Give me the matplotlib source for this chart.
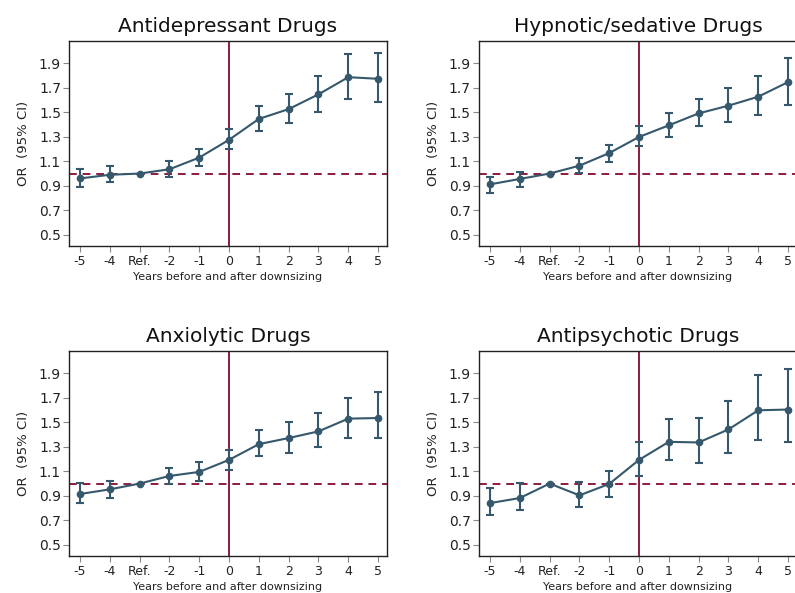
import matplotlib
matplotlib.use("Agg")
import matplotlib.pyplot as plt
import numpy as np

plt.rcParams['font.family'] = ['DejaVu Sans']

# x positions: -5, -4, Ref (-3), -2 ... 5
years = np.arange(-5, 6)
tick_labels = ['-5', '-4', 'Ref.', '-2', '-1', '0', '1', '2', '3', '4', '5']

titles = ['Antidepressant Drugs', 'Hypnotic/sedative Drugs',
          'Anxiolytic Drugs', 'Antipsychotic Drugs']

# odds ratios and 95% CI; Ref has no CI
antidep_or = [0.96, 0.99, 1.00, 1.035, 1.13, 1.275, 1.445, 1.525, 1.645, 1.785, 1.772]
antidep_lo = [0.89, 0.935, np.nan, 0.975, 1.062, 1.197, 1.344, 1.409, 1.501, 1.61, 1.583]
antidep_hi = [1.037, 1.064, np.nan, 1.102, 1.203, 1.366, 1.55, 1.65, 1.797, 1.976, 1.984]

hypno_or = [0.912, 0.956, 1.00, 1.064, 1.167, 1.298, 1.393, 1.49, 1.553, 1.626, 1.745]
hypno_lo = [0.845, 0.893, np.nan, 1.007, 1.097, 1.227, 1.295, 1.387, 1.42, 1.477, 1.561]
hypno_hi = [0.975, 1.013, np.nan, 1.127, 1.235, 1.387, 1.49, 1.61, 1.694, 1.791, 1.938]

anxio_or = [0.915, 0.953, 1.00, 1.062, 1.095, 1.193, 1.321, 1.371, 1.425, 1.529, 1.534]
anxio_lo = [0.841, 0.885, np.nan, 0.997, 1.021, 1.114, 1.226, 1.253, 1.294, 1.368, 1.368]
anxio_hi = [1.002, 1.021, np.nan, 1.130, 1.174, 1.275, 1.433, 1.499, 1.575, 1.698, 1.744]

psych_or = [0.841, 0.882, 1.00, 0.904, 0.997, 1.193, 1.34, 1.335, 1.441, 1.597, 1.603]
psych_lo = [0.743, 0.786, np.nan, 0.811, 0.893, 1.062, 1.193, 1.169, 1.245, 1.357, 1.335]
psych_hi = [0.961, 1.002, np.nan, 1.013, 1.103, 1.338, 1.526, 1.534, 1.676, 1.886, 1.935]

series = [(antidep_or, antidep_lo, antidep_hi),
          (hypno_or, hypno_lo, hypno_hi),
          (anxio_or, anxio_lo, anxio_hi),
          (psych_or, psych_lo, psych_hi)]

line_col = '#35586c'
red_col = '#8c1c3e'

fig = plt.figure(figsize=(7.95, 5.93), dpi=100)
positions = [[0.0868, 0.5852, 0.40, 0.3457],
             [0.6025, 0.5852, 0.40, 0.3457],
             [0.0868, 0.0624, 0.40, 0.3457],
             [0.6025, 0.0624, 0.40, 0.3457]]

for pos, title, (o, lo, hi) in zip(positions, titles, series):
    ax = fig.add_axes(pos)
    o = np.array(o)
    lo = np.array(lo)
    hi = np.array(hi)
    err = np.nan_to_num(np.vstack([o - lo, hi - o]))
    ax.axhline(1.0, color=red_col, ls=(0, (4, 3)), lw=1.4, zorder=1)
    ax.axvline(0, color=red_col, lw=1.4, zorder=1)
    ax.errorbar(years, o, yerr=err, color=line_col, lw=1.5, marker='o',
                markersize=4.5, capsize=2.7, capthick=1.5, elinewidth=1.5, zorder=3)
    ax.set_xlim(-5.37, 5.3)
    ax.set_ylim(0.41, 2.08)
    ax.set_yticks([0.5, 0.7, 0.9, 1.1, 1.3, 1.5, 1.7, 1.9])
    ax.set_yticklabels(['0.5', '0.7', '0.9', '1.1', '1.3', '1.5', '1.7', '1.9'])
    ax.set_xticks(years)
    ax.set_xticklabels(tick_labels)
    ax.tick_params(axis='y', labelsize=10, length=4.3, color='#888888', pad=1.5,
                   labelcolor='#222222')
    ax.tick_params(axis='x', labelsize=9, length=4.3, color='#888888', pad=2.5,
                   labelcolor='#222222')
    ax.set_title(title, fontsize=14.5, pad=6.5, color='#111111')
    ax.set_ylabel('OR  (95% CI)', fontsize=9.5, labelpad=6, color='#222222')
    ax.set_xlabel('Years before and after downsizing', fontsize=8, labelpad=2.5,
                  color='#222222')
    for s in ax.spines.values():
        s.set_linewidth(1.0)
        s.set_color('#222222')

fig.savefig('out.png', dpi=100)
